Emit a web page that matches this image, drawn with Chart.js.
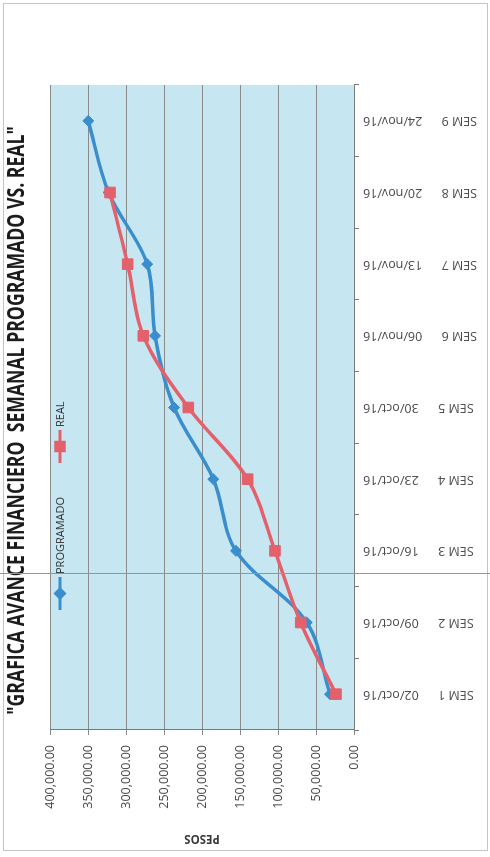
<!DOCTYPE html>
<html>
<head>
<meta charset="utf-8">
<script src="https://cdn.jsdelivr.net/npm/chart.js@4.4.1/dist/chart.umd.min.js"></script>
<style>
  html, body { margin: 0; padding: 0; background: #fff; width: 490px; height: 857px; overflow: hidden; }
  #marco { position: absolute; left: 3px; top: 3px; width: 483px; height: 846px; border: 1px solid #c4c4c4; }
  /* the scanned sheet is turned a quarter turn: draw landscape, rotate it */
  #giro { position: absolute; left: 0; top: 0; width: 857px; height: 490px;
          transform-origin: 0 0; transform: translateY(857px) rotate(-90deg); }
  #raya { position: absolute; left: 0; top: 573px; width: 490px; height: 1px; background: #a383d2; }
</style>
</head>
<body>
<div id="marco"></div>
<div id="giro"><canvas id="chartAvance" width="857" height="490"></canvas></div>
<div id="raya"></div>

<script>
// ── DATOS ─────────────────────────────────────────
const titulo     = '"GRAFICA AVANCE FINANCIERO  SEMANAL PROGRAMADO VS. REAL"';
const semanas    = ['SEM 1', 'SEM 2', 'SEM 3', 'SEM 4', 'SEM 5', 'SEM 6', 'SEM 7', 'SEM 8', 'SEM 9'];
const fechas     = ['02/oct/16', '09/oct/16', '16/oct/16', '23/oct/16', '30/oct/16', '06/nov/16', '13/nov/16', '20/nov/16', '24/nov/16'];
const programado = [31600, 62200, 155300, 185100, 236800, 261800, 272000, 323000, 349600];
const real       = [23700, 70100, 104000, 139900, 218000, 277200, 297800, 321000, null];
const pesosMax   = 400000;
const pesosPaso  = 50000;

const AZUL = '#3a8ece';
const ROJO = '#e4616b';
const FONDO_PLOT = '#c6e6f2';
const FAM = "'Open Sans', 'DejaVu Sans', sans-serif";

const fmtPesos = v => Number(v).toLocaleString('en-US', { minimumFractionDigits: 2, maximumFractionDigits: 2 });

// ── fondo del área de trazado ───────────────────
const fondoPlot = {
  id: 'fondo-plot',
  beforeDraw(chart) {
    const { ctx: c, chartArea: a } = chart;
    c.save();
    c.fillStyle = FONDO_PLOT;
    c.fillRect(a.left, a.top, a.right - a.left, a.bottom - a.top);
    c.restore();
  }
};

// ── título angosto (la hoja usa una fuente tipo Calibri) ──
const tituloAngosto = {
  id: 'titulo-angosto',
  afterDraw(chart) {
    const { ctx: c, chartArea: a } = chart;
    const cx = (a.left + a.right) / 2 - 13;
    c.save();
    c.font = `bold 24px ${FAM}`;
    c.fillStyle = '#1c1c1c';
    c.textAlign = 'center';
    c.textBaseline = 'middle';
    c.translate(cx, 17);
    c.scale(0.735, 1);
    c.fillText(titulo, 0, 0);
    c.restore();
  }
};

// ── leyenda dentro del área (como la hoja escaneada) ──
const leyenda = {
  id: 'leyenda-interna',
  afterDraw(chart) {
    const { ctx: c, chartArea: a } = chart;
    const y = a.top + 10;
    const items = [
      { ds: 0, x: a.left + 120 },
      { ds: 1, x: a.left + 267 }
    ];
    c.save();
    items.forEach(it => {
      const d = chart.data.datasets[it.ds];
      c.strokeStyle = d.borderColor;
      c.lineWidth = 3;
      c.beginPath();
      c.moveTo(it.x, y);
      c.lineTo(it.x + 33, y);
      c.stroke();
      Chart.helpers.drawPoint(c, {
        pointStyle: d.pointStyle, radius: d.pointStyle === 'rect' ? 6 : 4.5,
        borderWidth: 1, rotation: 0
      }, it.x + 16.5, y);
      c.fillStyle = d.borderColor;
      c.fill();
      c.fillStyle = '#333';
      c.font = `11px ${FAM}`;
      c.textAlign = 'left';
      c.textBaseline = 'middle';
      c.fillText(d.label, it.x + 36, y + 1);
    });
    c.restore();
  }
};

new Chart(document.getElementById('chartAvance'), {
  type: 'line',
  data: {
    labels: semanas,
    datasets: [
      {
        label: 'PROGRAMADO',
        data: programado,
        borderColor: AZUL,
        backgroundColor: AZUL,
        borderWidth: 3.5,
        pointStyle: 'rectRot',
        pointRadius: 5.5,
        pointBorderWidth: 1,
        tension: 0.35,
        order: 1
      },
      {
        label: 'REAL',
        data: real,
        borderColor: ROJO,
        backgroundColor: ROJO,
        borderWidth: 3.5,
        pointStyle: 'rect',
        pointRadius: 7.5,
        pointBorderWidth: 1,
        tension: 0.35,
        order: 0
      }
    ]
  },
  options: {
    responsive: false,
    animation: false,
    layout: { padding: { left: 7, right: 85, top: 50, bottom: 0 } },
    plugins: {
      legend: { display: false },
      tooltip: { enabled: false },
      title: { display: false }
    },
    scales: {
      x: {
        offset: true,
        grid: { drawOnChartArea: false, drawTicks: true, tickLength: 5, color: '#7a7a7a', offset: true },
        border: { color: '#7a7a7a' },
        ticks: {
          autoSkip: false, minRotation: 90, maxRotation: 90, padding: 4,
          color: '#4a4a4a', font: { family: FAM, size: 12.5 },
          callback: (v, i) => semanas[i] + '      ' + fechas[i]
        },
        afterFit: s => { s.height = 136; }
      },
      y: {
        min: 0, max: pesosMax,
        grid: { color: '#8a8a8a', tickLength: 5 },
        border: { color: '#7a7a7a' },
        ticks: {
          stepSize: pesosPaso, padding: 10,
          color: '#4a4a4a', font: { family: FAM, size: 12.5 },
          callback: v => fmtPesos(v)
        },
        title: {
          display: true, text: 'PESOS', color: '#3a3a3a',
          font: { family: FAM, size: 11.5, weight: 'bold' },
          padding: { top: 5, bottom: 0 }
        },
        afterFit: s => { s.width = 120; }
      }
    }
  },
  plugins: [fondoPlot, tituloAngosto, leyenda]
});
</script>
</body>
</html>
